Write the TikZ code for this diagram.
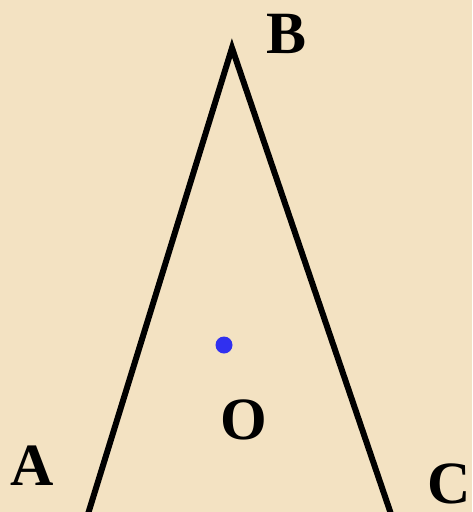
\documentclass[tikz,border=0pt]{standalone}
\usepackage{fontspec}
\setmainfont{Liberation Serif}
\begin{document}
\begin{tikzpicture}[x=1pt,y=-1pt,
  lbl/.style={font=\fontsize{60}{60}\selectfont\bfseries, inner sep=0pt, anchor=base west},
  side/.style={line width=6pt, line join=miter, black},
  dotc/.style={circle, fill=dotblue, inner sep=0pt, minimum size=17pt}]
\definecolor{parch}{HTML}{F3E2C2}
\definecolor{dotblue}{HTML}{3030F0}
\fill[parch] (0,0) rectangle (472,512);
\useasboundingbox (0,0) rectangle (472,512);
\clip (0,0) rectangle (472,512);
\coordinate (apex) at (232,48);
\coordinate (aend) at (88,514);
\coordinate (cend) at (391,514);
\draw[side] (aend) -- (apex) -- (cend);
\node[dotc] (o) at (224,345) {};
\node[lbl] (B) at (266,53) {B};
\node[lbl] (A) at (10,485) {A};
\node[lbl] (C) at (427,503) {C};
\node[lbl] (O) at (220,439) {O};
\end{tikzpicture}
\end{document}
